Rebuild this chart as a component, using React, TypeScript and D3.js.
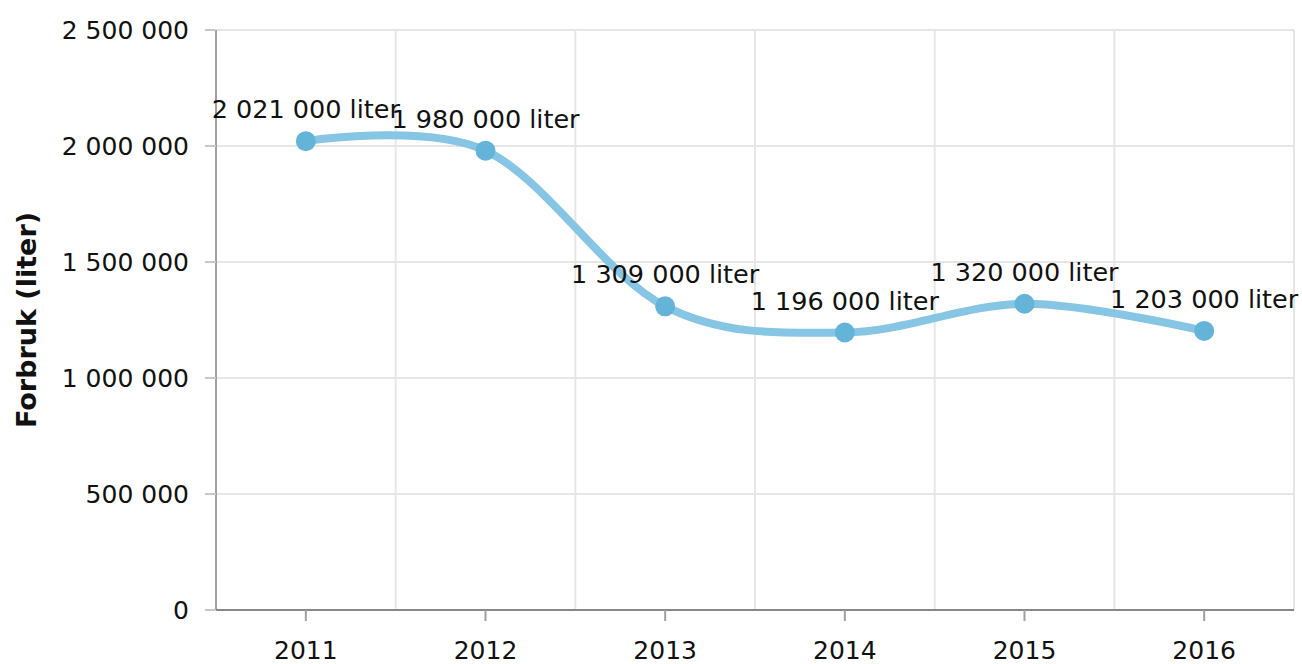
import React, { useEffect, useRef } from 'react';
import * as d3 from 'd3';

const years = ['2011', '2012', '2013', '2014', '2015', '2016'];
const consumption = [2021000, 1980000, 1309000, 1196000, 1320000, 1203000];
const yTicks = [0, 500000, 1000000, 1500000, 2000000, 2500000];
const yTitle = 'Forbruk (liter)';

const fmt = (v: number) => d3.format(',')(v).replace(/,/g, ' ');

const App = () => {
  const svgRef = useRef<SVGSVGElement>(null);
  const width = 1302;
  const height = 664;

  useEffect(() => {
    if (!svgRef.current) return;
    const margin = { top: 30, right: 8, bottom: 54, left: 216 };
    const innerW = width - margin.left - margin.right;
    const innerH = height - margin.top - margin.bottom;
    const font = 'DejaVu Sans, Verdana, sans-serif';

    const svg = d3.select(svgRef.current);
    svg.selectAll('*').remove();

    const x = d3.scaleBand().domain(years).range([0, innerW]);
    const y = d3.scaleLinear().domain([0, 2500000]).range([innerH, 0]);

    const g = svg.append('g').attr('transform', `translate(${margin.left},${margin.top})`);

    // horizontal grid
    g.selectAll('.hgrid').data(yTicks).join('line')
      .attr('x1', 0).attr('x2', innerW)
      .attr('y1', d => y(d)).attr('y2', d => y(d))
      .attr('stroke', '#e6e6e6').attr('stroke-width', 2);

    // vertical grid at band boundaries
    const bounds = years.map(d => (x(d) as number) + x.bandwidth());
    g.selectAll('.vgrid').data(bounds).join('line')
      .attr('x1', d => d).attr('x2', d => d)
      .attr('y1', 0).attr('y2', innerH)
      .attr('stroke', '#e6e6e6').attr('stroke-width', 2);

    // y axis line + ticks
    g.append('line').attr('x1', 0).attr('x2', 0).attr('y1', 0).attr('y2', innerH)
      .attr('stroke', '#a0a0a0').attr('stroke-width', 2);
    g.selectAll('.ytick').data(yTicks).join('line')
      .attr('x1', -11).attr('x2', 0)
      .attr('y1', d => y(d)).attr('y2', d => y(d))
      .attr('stroke', '#c8c8c8').attr('stroke-width', 2);
    g.selectAll('.ylabel').data(yTicks).join('text')
      .attr('x', -27).attr('y', d => y(d)).attr('dy', '0.35em')
      .attr('text-anchor', 'end').attr('font-family', font).attr('font-size', 25)
      .attr('fill', '#111').text(d => fmt(d));

    // x axis line + ticks
    g.append('line').attr('x1', 0).attr('x2', innerW).attr('y1', innerH).attr('y2', innerH)
      .attr('stroke', '#888').attr('stroke-width', 2);
    g.selectAll('.xtick').data(years).join('line')
      .attr('x1', d => (x(d) as number) + x.bandwidth() / 2)
      .attr('x2', d => (x(d) as number) + x.bandwidth() / 2)
      .attr('y1', innerH).attr('y2', innerH + 11)
      .attr('stroke', '#a0a0a0').attr('stroke-width', 2);
    g.selectAll('.xlabel').data(years).join('text')
      .attr('x', d => (x(d) as number) + x.bandwidth() / 2)
      .attr('y', innerH + 49)
      .attr('text-anchor', 'middle').attr('font-family', font).attr('font-size', 25)
      .attr('fill', '#111').text(d => d);

    // y title
    svg.append('text')
      .attr('transform', `translate(36,${margin.top + innerH / 2}) rotate(-90)`)
      .attr('text-anchor', 'middle').attr('font-family', font).attr('font-size', 27)
      .attr('font-weight', 'bold').attr('fill', '#111').text(yTitle);

    const pts = years.map((d, i) => ({ x: (x(d) as number) + x.bandwidth() / 2, y: y(consumption[i]), v: consumption[i] }));

    const line = d3.line<{ x: number; y: number }>()
      .x(d => d.x).y(d => d.y)
      .curve(d3.curveCardinal.tension(0));

    g.append('path').datum(pts).attr('d', line)
      .attr('fill', 'none').attr('stroke', '#86c5e4').attr('stroke-width', 8)
      .attr('stroke-linejoin', 'round').attr('stroke-linecap', 'round');

    g.selectAll('.dot').data(pts).join('circle')
      .attr('cx', d => d.x).attr('cy', d => d.y).attr('r', 10)
      .attr('fill', '#64b4da');

    g.selectAll('.val').data(pts).join('text')
      .attr('x', d => d.x).attr('y', d => d.y - 23)
      .attr('text-anchor', 'middle').attr('font-family', font).attr('font-size', 25.5)
      .attr('fill', '#111').text(d => `${fmt(d.v)} liter`);
  }, []);

  return (
    <svg ref={svgRef} width={width} height={height}
      style={{ position: 'absolute', left: 0, top: 0, background: '#fff', display: 'block' }} />
  );
};

export default App;
